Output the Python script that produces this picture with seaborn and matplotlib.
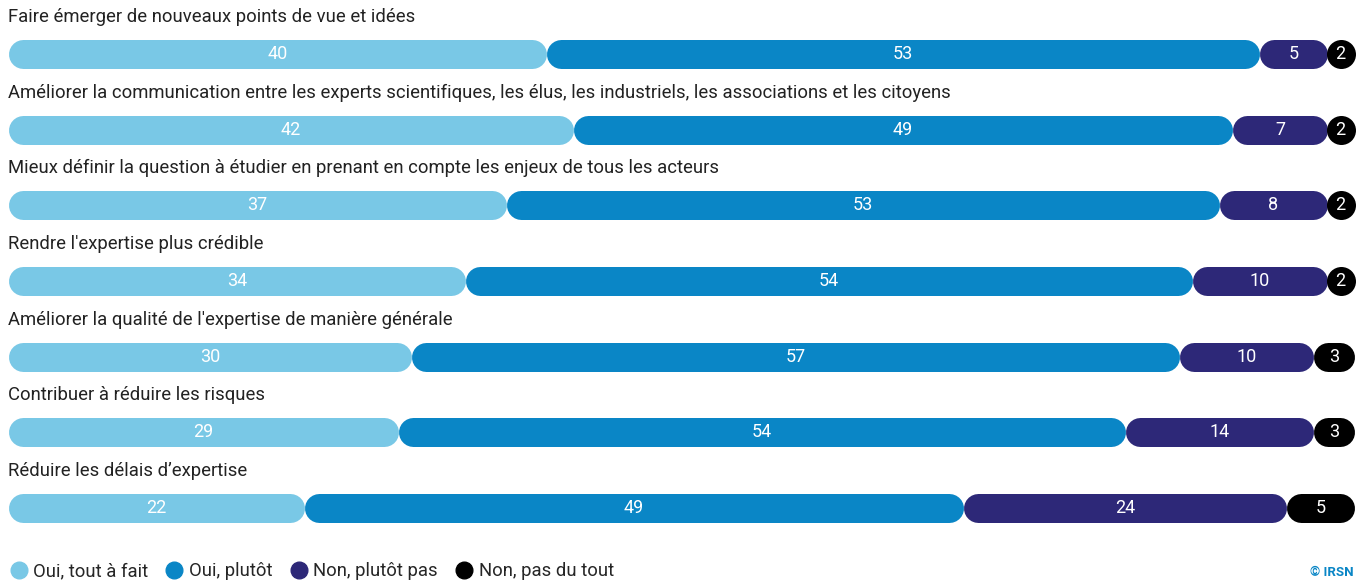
import matplotlib
matplotlib.use('Agg')
import matplotlib.pyplot as plt
from matplotlib.lines import Line2D
import seaborn as sns

# data
questions = [
    "Faire émerger de nouveaux points de vue et idées",
    "Améliorer la communication entre les experts scientifiques, les élus, les industriels, les associations et les citoyens",
    "Mieux définir la question à étudier en prenant en compte les enjeux de tous les acteurs",
    "Rendre l'expertise plus crédible",
    "Améliorer la qualité de l'expertise de manière générale",
    "Contribuer à réduire les risques",
    "Réduire les délais d’expertise",
]
answers = ["Oui, tout à fait", "Oui, plutôt", "Non, plutôt pas", "Non, pas du tout"]
oui_tout = [40, 42, 37, 34, 30, 29, 22]
oui_plutot = [53, 49, 53, 54, 57, 54, 49]
non_plutot = [5, 7, 8, 10, 10, 14, 24]
non_pas = [2, 2, 2, 2, 3, 3, 5]

colors = ["#79c8e6", "#0a86c6", "#2d2878", "#000000"]

sns.set_theme(style="white")
plt.rcParams['font.family'] = ['Roboto', 'DejaVu Sans']

W, H = 1364, 583
fig = plt.figure(figsize=(W / 100, H / 100), dpi=100)
ax = fig.add_axes([8 / W, 0.0636, 1346 / W, 0.9085])
ax.set_xlim(0, 100)
ax.set_ylim(len(questions) - 0.5, -0.5)
ax.axis('off')

bar_px = 29
lw = bar_px * 72 / 100
px_per_unit = 1346 / 100
r = (bar_px / 2) / px_per_unit

series = [oui_tout, oui_plutot, non_plutot, non_pas]
for i, q in enumerate(questions):
    ax.text(0, i - 0.49, q, ha='left', va='center', fontsize=13.3, color='#222222')
    left = 0
    for vals, c in zip(series, colors):
        v = vals[i]
        a, b = left + r, left + v - r
        if b - a < 0.05:
            ax.plot([left + v / 2], [i], marker='o', ms=lw, color=c,
                    mec=c, mew=0, clip_on=False)
        else:
            ax.plot([a, b], [i, i], color=c, lw=lw, solid_capstyle='round',
                    clip_on=False)
        ax.text(left + v / 2, i, str(v), ha='center', va='center',
                color='white', fontsize=13)
        left += v

handles = [Line2D([], [], marker='o', ls='none', markersize=12,
                  markerfacecolor=c, markeredgecolor=c) for c in colors]
fig.legend(handles, answers, loc='center left', bbox_to_anchor=(2 / W, 1 - 571 / H),
           ncol=4, frameon=False, fontsize=13.3, handletextpad=0.3,
           columnspacing=0.9, borderaxespad=0, handlelength=1.0)

fig.text(1354 / W, 1 - 572 / H, "© IRSN", ha='right', va='center',
         color='#0a86c6', fontsize=9.5, fontweight='bold')

fig.savefig('out.png', dpi=100)
